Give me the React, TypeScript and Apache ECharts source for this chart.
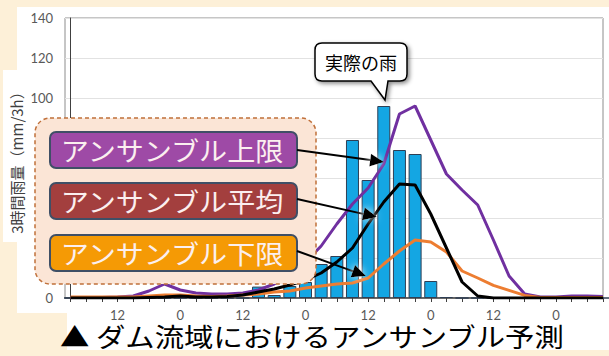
import { useEffect, useRef } from 'react';
import * as echarts from 'echarts';

// 3-hour time steps (hour of day at each step)
const hours = ['3', '6', '9', '12', '15', '18', '21', '0', '3', '6', '9', '12', '15', '18', '21', '0', '3', '6', '9', '12', '15', '18', '21', '0', '3', '6', '9', '12', '15', '18', '21', '0', '3', '6', '9'];
const shownHourLabels = ['12', '0'];

// observed 3-hour rainfall (mm/3h)
const observedRain = [0, 0, 0, 0, 0, 0, 0, 0, 0, 0, 0, 0, 5.7, 1.5, 6, 8, 17, 21, 79, 59, 96, 74, 72, 8.5, 0.5, 0, 0, 0, 0, 0, 0, 0, 0, 0, 0];
// ensemble upper bound
const upperBound = [0.3, 0.3, 0.3, 0.5, 1, 3.5, 7, 4, 2.5, 2, 2, 2.5, 4, 7, 12, 18, 26, 37, 47, 55, 67, 92, 96, 79, 62, 54, 46.5, 29, 11, 2, 0.5, 0.5, 1, 1, 0.8];
// ensemble mean
const ensembleMean = [0, 0, 0, 0, 0, 0.3, 0.5, 1, 0.5, 0.5, 0.8, 1.5, 3, 4.5, 6.5, 9, 12.5, 18, 25, 37, 48, 57, 56.5, 42, 25, 8, 1, 0, 0, 0, 0, 0, 0, 0, 0];
// ensemble lower bound
const lowerBound = [0.5, 0.5, 0.5, 0.5, 0.5, 1, 1.5, 1.5, 1, 0.8, 1, 1.5, 2, 3, 3.5, 5, 6, 7, 7.5, 10, 17, 23.5, 29, 28, 23, 13.5, 10, 6.3, 3.8, 1.3, 0.3, 0.3, 0.3, 0.3, 0.3];

const seriesNames = ['アンサンブル上限', 'アンサンブル平均', 'アンサンブル下限'];
const calloutText = '実際の雨';
const titleText = '▲ ダム流域におけるアンサンブル予測';
const yAxisTitle = '3時間雨量（mm/3h）';

const CJK = "'Noto Sans CJK JP', 'Noto Sans', sans-serif";
const NUM = "Lato, 'Open Sans', sans-serif";

const calloutPath =
  'M322,43 H400 Q407,43 407,50 V74 Q407,81 400,81 H388 L385,100 L371,81 H322 Q315,81 315,74 V50 Q315,43 322,43 Z';

let registered = false;
function ensureShapes() {
  if (registered) return;
  echarts.graphic.registerShape('callout', echarts.graphic.extendPath(calloutPath, {}) as any);
  registered = true;
}

function arrow(x1: number, y1: number, x2: number, y2: number) {
  const dx = x2 - x1;
  const dy = y2 - y1;
  const len = Math.hypot(dx, dy);
  const ux = dx / len;
  const uy = dy / len;
  const hl = 14;
  const hw = 6.5;
  const bx = x2 - ux * hl;
  const by = y2 - uy * hl;
  const px = -uy * hw;
  const py = ux * hw;
  return [
    {
      type: 'line',
      z: 110,
      shape: { x1, y1, x2: bx + ux * 2, y2: by + uy * 2 },
      style: { stroke: '#000', lineWidth: 2 },
    },
    {
      type: 'polygon',
      z: 111,
      shape: { points: [[x2, y2], [bx + px, by + py], [bx - px, by - py]] },
      style: { fill: '#000', shadowColor: '#ffffff', shadowBlur: 8 },
    },
  ];
}

function txt(text: string, x: number, y: number, fontSize: number, fill: string, extra: any = {}, align = 'center') {
  return {
    type: 'text',
    x,
    y,
    z: 120,
    ...extra,
    style: {
      text,
      fill,
      fontSize,
      fontFamily: CJK,
      fontWeight: 'normal',
      textAlign: align,
      textVerticalAlign: 'middle',
      align,
      verticalAlign: 'middle',
    },
  };
}

export default function App() {
  const ref = useRef<HTMLDivElement>(null);

  useEffect(() => {
    if (!ref.current) return;
    ensureShapes();
    const chart = echarts.init(ref.current, null, { renderer: 'svg' });

    const idx = hours.map((_, i) => i);
    const labelIdx = idx.filter((i) => shownHourLabels.includes(hours[i]));
    const pairs = (arr: number[]) => arr.map((v, i) => [i, v]);

    const labelBoxes = [
      { y: 132, fill: '#9e4aa6', name: seriesNames[0] },
      { y: 183, fill: '#a33f3e', name: seriesNames[1] },
      { y: 235, fill: '#f59a05', name: seriesNames[2] },
    ];

    const graphic: any[] = [
      // white panels on cream background
      { type: 'rect', z: -10, silent: true, shape: { x: 17, y: 7, width: 592, height: 306 }, style: { fill: '#ffffff' } },
      { type: 'rect', z: -10, silent: true, shape: { x: 3, y: 70, width: 16, height: 172 }, style: { fill: '#ffffff' } },
      { type: 'rect', z: -10, silent: true, shape: { x: 67, y: 313, width: 542, height: 37 }, style: { fill: '#ffffff' } },
      // y axis title
      txt(yAxisTitle, 16, 159, 15, '#404040', { rotation: Math.PI / 2 }),
      // group box
      {
        type: 'rect',
        z: 100,
        shape: { x: 35, y: 118, width: 281, height: 166, r: 15 },
        style: { fill: '#fbe5d6', stroke: '#c0703a', lineWidth: 1.5, lineDash: [4, 3] },
      },
      ...labelBoxes.flatMap((b) => [
        {
          type: 'rect',
          z: 101,
          shape: { x: 50, y: b.y, width: 247, height: 36, r: 6 },
          style: { fill: b.fill, stroke: '#3f4f66', lineWidth: 2 },
        },
        txt(b.name, 172, b.y + 18, 26, '#fbefef', { scaleX: 1.08 }),
      ]),
      ...arrow(297, 150, 384, 162),
      ...arrow(297, 199, 377, 217),
      ...arrow(297, 251, 366, 276),
      // callout
      {
        type: 'callout',
        z: 105,
        x: 0,
        y: 0,
        style: {
          fill: '#ffffff',
          stroke: '#000000',
          lineWidth: 1.5,
          shadowBlur: 4,
          shadowOffsetX: 2,
          shadowOffsetY: 2,
          shadowColor: 'rgba(0,0,0,0.45)',
        },
      },
      txt(calloutText, 361, 62, 18, '#000000'),
      // caption
      txt(titleText, 60, 336, 26, '#000000', { scaleX: 1.13 }, 'left'),
    ];

    chart.setOption({
      animation: false,
      backgroundColor: '#fdf0d8',
      grid: {
        left: 65,
        right: 6,
        top: 18,
        bottom: 58,
        show: true,
        borderColor: '#8c8c8c',
        borderWidth: 1,
        outerBoundsMode: 'none',
        containLabel: false,
      },
      xAxis: {
        type: 'value',
        min: -0.36,
        max: hours.length - 1,
        splitLine: { show: false },
        axisLine: { show: true, onZero: false, lineStyle: { color: '#404040', width: 1.5 } },
        axisTick: { show: true, length: 4, customValues: idx, lineStyle: { color: '#404040' } },
        axisLabel: {
          customValues: labelIdx,
          formatter: (v: number) => hours[Math.round(v)] ?? '',
          color: '#595959',
          fontSize: 13,
          fontFamily: NUM,
          margin: 10,
        },
      },
      yAxis: {
        type: 'value',
        min: 0,
        max: 140,
        interval: 20,
        axisLine: { show: true, lineStyle: { color: '#404040', width: 1 } },
        axisTick: { show: false },
        splitLine: { lineStyle: { color: '#e2e2e2', width: 1 } },
        axisLabel: { color: '#595959', fontSize: 13, fontFamily: NUM, margin: 12 },
      },
      series: [
        {
          type: 'bar',
          name: calloutText,
          data: pairs(observedRain),
          barWidth: 13,
          itemStyle: { color: '#14a6e3', borderColor: '#2e3f55', borderWidth: 1 },
          z: 2,
        },
        {
          type: 'line',
          name: seriesNames[0],
          data: pairs(upperBound),
          symbol: 'none',
          lineStyle: { color: '#7030a0', width: 3 },
          z: 3,
        },
        {
          type: 'line',
          name: seriesNames[2],
          data: pairs(lowerBound),
          symbol: 'none',
          lineStyle: { color: '#ed7d31', width: 3 },
          z: 3,
        },
        {
          type: 'line',
          name: seriesNames[1],
          data: pairs(ensembleMean),
          symbol: 'none',
          lineStyle: { color: '#000000', width: 3 },
          z: 4,
        },
      ],
      graphic,
    });

    return () => chart.dispose();
  }, []);

  return <div ref={ref} style={{ position: 'fixed', left: 0, top: 0, width: 609, height: 356 }} />;
}
